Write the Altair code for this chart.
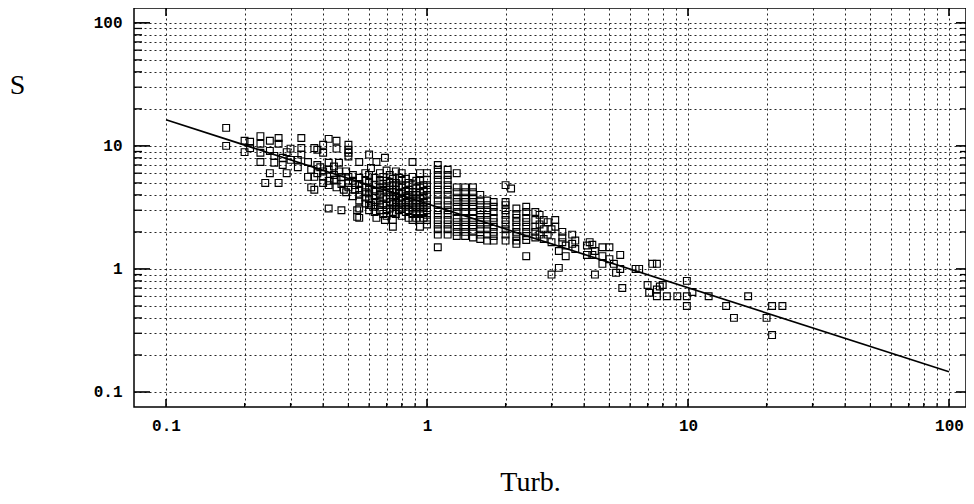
import altair as alt
import pandas as pd

# ---- scatter data: turbidity columns and the S values read in each column ----
low_turb = [0.17, 0.20, 0.21, 0.23, 0.24, 0.25, 0.26, 0.27, 0.28, 0.29, 0.30, 0.32, 0.33]
low_s = [[14, 10], [11, 8.9], [10.8, 9.6], [12, 10.4, 8.8, 7.4], [5], [11, 9.1, 6],
         [8.3, 7.3], [11.6, 10.4, 5], [8, 7], [8.9, 6], [7.7, 9.5], [7.7, 6.7], [11.6, 9.6, 8.5]]

band_turb = [0.35, 0.36, 0.37, 0.38, 0.39, 0.40, 0.42, 0.44, 0.45, 0.46, 0.47, 0.48, 0.49,
             0.50, 0.52, 0.53, 0.54, 0.55]
band_s = [[7.4, 5.6], [6.4, 4.6], [9.6, 5.6, 4.4], [9.3, 7.0, 6.0], [6.7], [10.2, 8.8, 6.2, 5.6, 5.0],
          [11.4, 7.3, 6.4, 5.2, 4.8, 3.1], [6.8, 5.8, 5.3], [11, 9.5, 5.3, 4.6], [7.3, 6.2],
          [5.6, 4.9, 3.0], [4.4], [6.2, 4.2], [10.2, 9.3, 8.8, 8.2, 5.6, 5.0, 4.6], [5.8, 5.2, 3.9],
          [4.8, 4.4], [3.0, 2.65], [7.4, 5.5, 4.9, 4.4, 4.0, 3.6, 3.1, 2.6]]

mid_turb = [0.58, 0.60, 0.61, 0.63, 0.64, 0.66, 0.68, 0.69, 0.70, 0.72, 0.74, 0.76, 0.78, 0.80,
            0.83, 0.85, 0.88, 0.91, 0.94, 0.97, 1.0]
mid_s = [[6.0, 5.2, 4.6, 4.2, 3.8, 3.4],
         [8.5, 5.8, 5.0, 4.5, 4.1, 3.7, 3.3, 3.0],
         [6.6, 3.3],
         [5.5, 4.8, 4.3, 3.9, 3.5, 3.2, 2.9],
         [7.4, 2.6],
         [6.0, 5.2, 4.6, 4.0, 3.6, 3.3, 3.0],
         [5.6, 4.9, 4.4, 3.8, 3.4, 2.8],
         [8.0, 2.5],
         [6.3, 5.2, 4.7, 4.2, 3.7, 3.3, 3.0, 2.7],
         [5.8, 5.0, 4.4, 4.0, 3.5, 3.1],
         [5.4, 4.8, 4.2, 3.8, 3.4, 2.9, 2.5, 2.2],
         [6.2, 5.0, 4.4, 3.9, 3.5, 3.2, 2.8],
         [5.5, 4.7, 4.1, 3.6, 3.3, 3.0],
         [6.0, 5.2, 4.6, 4.2, 3.8, 3.4, 3.1, 2.7],
         [5.4, 4.8, 4.3, 3.9, 3.5, 3.2, 2.9],
         [5.0, 4.4, 4.0, 3.6, 3.3, 3.0, 2.6],
         [7.4, 5.6, 4.8, 4.2, 3.8, 3.4, 3.1, 2.8, 2.5],
         [5.2, 4.5, 4.0, 3.6, 3.2, 2.9, 2.6],
         [6.0, 5.2, 4.7, 4.2, 3.8, 3.4, 3.1, 2.8, 2.5, 2.2],
         [4.8, 4.3, 3.9, 3.5, 3.2, 2.9, 2.6],
         [6.0, 5.3, 4.8, 4.4, 4.0, 3.6, 3.3, 3.0, 2.75, 2.5, 2.3]]

col_turb = [1.1, 1.2, 1.3, 1.4, 1.5, 1.6, 1.7, 1.8, 2.0, 2.1, 2.2, 2.4]
col_s = [[7.0, 6.4, 5.8, 5.3, 4.8, 4.4, 4.0, 3.6, 3.3, 3.0, 2.75, 2.5, 2.3, 2.1, 1.9, 1.5],
         [6.4, 5.8, 5.3, 4.8, 4.4, 4.0, 3.6, 3.3, 3.0, 2.75, 2.5, 2.3, 2.1, 1.9],
         [6.0, 4.6, 4.2, 3.8, 3.5, 3.2, 2.9, 2.6, 2.4, 2.2, 2.0, 1.85],
         [4.6, 4.2, 3.8, 3.5, 3.2, 2.9, 2.6, 2.4, 2.2, 2.0, 1.85],
         [4.6, 4.2, 3.8, 3.5, 3.2, 2.9, 2.6, 2.4, 2.2, 2.0, 1.8],
         [4.0, 3.6, 3.3, 3.0, 2.75, 2.5, 2.3, 2.1, 1.9, 1.75],
         [3.6, 3.3, 3.0, 2.75, 2.5, 2.3, 2.1, 1.9, 1.7],
         [3.5, 3.2, 2.9, 2.6, 2.4, 2.2, 2.0, 1.85, 1.7],
         [4.8, 3.5, 3.3, 3.0, 2.75, 2.5, 2.3, 2.1, 1.9, 1.7],
         [4.5],
         [3.1, 2.8, 2.6, 2.4, 2.2, 2.0, 1.85, 1.7, 1.6],
         [3.2, 2.9, 2.6, 2.4, 2.2, 2.0, 1.85, 1.72, 1.27]]

high_turb = [2.6, 2.7, 2.8, 2.9, 3.0, 3.1, 3.2, 3.3, 3.4, 3.6, 3.7, 4.1, 4.2, 4.3, 4.4, 4.7,
             5.0, 5.2, 5.3, 5.5, 5.6, 6.3, 6.5, 7.0, 7.1, 7.3, 7.6, 7.8, 8.0, 8.3, 9.1, 9.9,
             10.4, 12, 14, 15, 17, 20, 21, 23]
high_s = [[2.9, 2.5, 2.2, 2.0, 1.8], [2.75, 2.3, 1.9], [2.5, 2.1, 1.75], [2.4, 1.9],
          [2.1, 1.65, 0.9], [2.5, 2.2], [1.4, 1.02], [2.0, 1.8, 1.65], [1.55, 1.27], [1.9, 1.6],
          [1.7, 1.45], [1.55, 1.3], [1.65], [1.57, 1.3], [1.4, 0.9], [1.5, 1.27, 1.1],
          [1.5, 1.2], [1.1], [0.93], [1.3, 1.0], [0.7], [1.0], [1.0], [0.74], [0.64], [1.1],
          [1.1, 0.68, 0.6], [0.72], [0.74], [0.6], [0.6], [0.8, 0.6, 0.5],
          [0.65], [0.6], [0.5], [0.4], [0.6], [0.4], [0.5, 0.29], [0.5]]

# ---- fitted line end points ----
fit_turb = [0.1, 100]
fit_s = [16.3, 0.146]

# ---- grid / tick values ----
grid_vals = [round(m * 10.0 ** k, 4) for k in (-1, 0, 1) for m in range(1, 10)] + [100.0]
major_vals = [0.1, 1.0, 10.0, 100.0]
minor_vals = [v for v in grid_vals if v not in major_vals]

rows = []
for xs, ss in [(low_turb, low_s), (band_turb, band_s), (mid_turb, mid_s),
               (col_turb, col_s), (high_turb, high_s)]:
    for x, col in zip(xs, ss):
        for s in col:
            rows.append({"turb": x, "s": s})
pts = pd.DataFrame(rows)
fit_df = pd.DataFrame({"turb": fit_turb, "s": fit_s})
maj_df = pd.DataFrame({"turb": major_vals, "s": major_vals})
min_df = pd.DataFrame({"turb": minor_vals, "s": minor_vals})

W, H = 832, 399

xscale = alt.Scale(type="log", domain=[0.0754, 116.2], nice=False)
yscale = alt.Scale(type="log", domain=[0.0755, 132], nice=False)

label_expr = ("abs(log(datum.value)/LN10 - round(log(datum.value)/LN10)) < 0.001"
              " ? datum.label : ''")

common = dict(values=grid_vals, format="~g", labelExpr=label_expr, grid=True,
              gridDash=[2, 3], gridColor="black", gridOpacity=0.85, gridWidth=1,
              ticks=False, domain=False, labelFont="Liberation Mono", labelFontSize=16,
              labelFontWeight="bold", labelColor="black", labelOverlap=False,
              labelFlush=False, titleFont="Liberation Serif", titleFontSize=28,
              titleFontWeight="normal", titleColor="black", titleAlign="center")

xaxis = alt.Axis(title="Turb.", labelPadding=10, titleX=396, titleY=83,
                 titleBaseline="alphabetic", **common)
yaxis = alt.Axis(title="S", labelPadding=12, titleAngle=0, titleX=-117, titleY=77,
                 titleBaseline="middle", **common)

X = alt.X("turb:Q", scale=xscale, axis=xaxis)
Y = alt.Y("s:Q", scale=yscale, axis=yaxis)

points = alt.Chart(pts).mark_point(shape="square", filled=False, size=46,
                                   strokeWidth=1.15, color="black", opacity=1).encode(x=X, y=Y)
fit = alt.Chart(fit_df).mark_line(color="black", strokeWidth=1.7).encode(x=X, y=Y)

def yticks(df, x0, x1, w):
    return alt.Chart(df).mark_rule(color="black", strokeWidth=w).encode(
        y=Y, x=alt.value(x0), x2=alt.value(x1))

def xticks(df, y0, y1, w):
    return alt.Chart(df).mark_rule(color="black", strokeWidth=w).encode(
        x=X, y=alt.value(y0), y2=alt.value(y1))

ticks = [
    yticks(maj_df, 0, 16, 1.6), yticks(min_df, 0, 8, 1.3),
    yticks(maj_df, W - 10, W, 1.6), yticks(min_df, W - 6, W, 1.3),
    xticks(maj_df, H - 8, H, 1.6), xticks(min_df, H - 4, H, 1.2),
    xticks(maj_df, 0, 8, 1.6),
]

chart = alt.layer(*ticks, fit, points).properties(
    width=W, height=H,
    autosize=alt.AutoSizeParams(type="none"),
    padding={"left": 126, "top": 0, "right": 0, "bottom": 88},
    background="white",
).configure_view(stroke="black", strokeWidth=1.5)

chart.save("out.html", embed_options={"renderer": "svg", "actions": False})
